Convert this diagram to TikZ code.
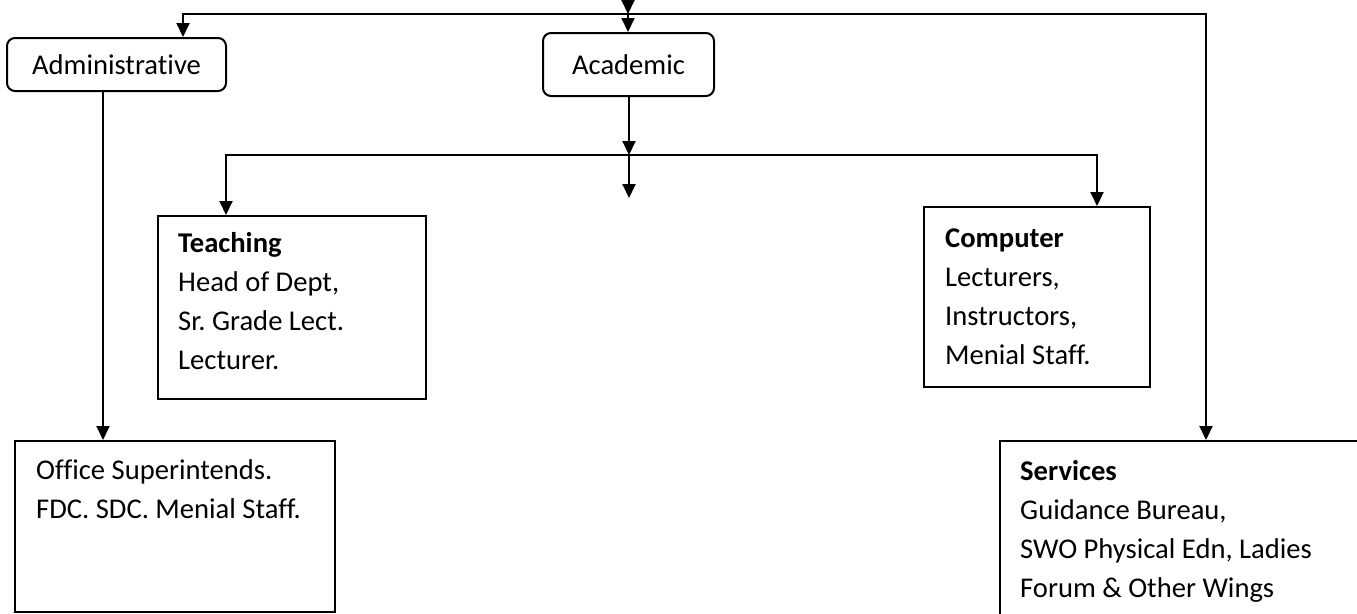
\documentclass[tikz,border=0pt]{standalone}
\usepackage{fontspec}
\setmainfont{Carlito}[Ligatures={NoCommon}]
\usetikzlibrary{arrows.meta}
\frenchspacing
\begin{document}
\begin{tikzpicture}[x=1pt,y=-1pt,
  conn/.style={line width=2pt, line join=miter, -{Triangle[length=14pt,width=13pt]}},
  rbox/.style={draw, line width=2pt, rounded corners=8pt, inner sep=0pt, font=\fontsize{28.6}{39}\selectfont},
  sbox/.style={draw, line width=2pt, inner sep=0pt},
  txt/.style={anchor=base west, inner sep=0pt, font=\fontsize{28.6}{39}\selectfont}]
\useasboundingbox (0,0) rectangle (1357,613);
\clip (0,0) rectangle (1357,613);
% boxes
\node[rbox, minimum width=219pt, minimum height=53pt] (admin) at (116.5,64.5) {Administrative};
\node[rbox, minimum width=171pt, minimum height=63pt] (acad) at (628.5,64.5) {Academic};
\node[sbox, minimum width=268pt, minimum height=183pt] (teach) at (292,307.5) {};
\node[sbox, minimum width=226pt, minimum height=180pt] (comp) at (1037,297) {};
\node[sbox, minimum width=320pt, minimum height=171pt] (office) at (175,526.5) {};
\node[sbox, minimum width=380pt, minimum height=199pt] (serv) at (1190,540.5) {};
% texts
\node[txt] (teacht) at (178,252) {\parbox[t]{240pt}{\textbf{Teaching}\\Head of Dept,\\Sr. Grade Lect.\\Lecturer.}};
\node[txt] (compt) at (945,247) {\parbox[t]{200pt}{\textbf{Computer}\\Lecturers,\\Instructors,\\Menial Staff.}};
\node[txt] (officet) at (36,479) {\parbox[t]{300pt}{Office Superintends.\\FDC. SDC. Menial Staff.}};
\node[txt] (servt) at (1020,480) {\parbox[t]{330pt}{\textbf{Services}\\Guidance Bureau,\\SWO Physical Edn, Ladies\\Forum \& Other Wings}};
% coordinates
\coordinate (src) at (628,-2);
\coordinate (hub) at (628,14);
\coordinate (hl) at (183,14);
\coordinate (hr) at (1206,14);
\coordinate (ax) at (103,0);
\coordinate (lhub) at (629,155);
\coordinate (ll) at (226,155);
\coordinate (lr) at (1097,155);
\coordinate (hang) at (629,198);
% connectors
\draw[conn] (src) -- (hub);
\draw[conn] (hub) -- (hl) -- (admin.north -| hl);
\draw[conn] (hub) -- (hr) -- (serv.north -| hr);
\draw[conn] (hub) -- (acad.north -| hub);
\draw[conn] (admin.south -| ax) -- (office.north -| ax);
\draw[conn] (acad.south -| lhub) -- (lhub);
\draw[conn] (lhub) -- (ll) -- (teach.north -| ll);
\draw[conn] (lhub) -- (lr) -- (comp.north -| lr);
\draw[conn] (lhub) -- (hang);
\end{tikzpicture}
\end{document}
